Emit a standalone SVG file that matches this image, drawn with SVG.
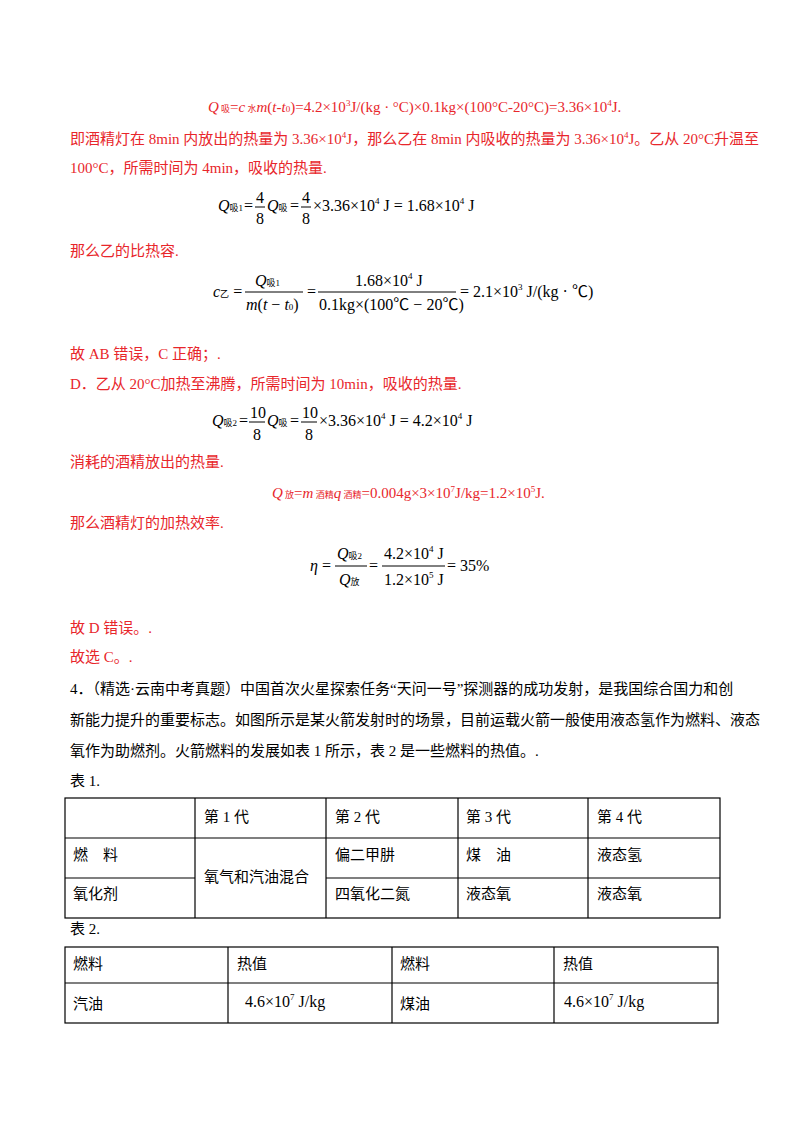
<svg xmlns="http://www.w3.org/2000/svg" width="800" height="1132" viewBox="0 0 800 1132">
<style>
text{font-family:"Liberation Serif","Noto Sans CJK SC",serif;font-size:15px;fill:#000}
.r{fill:#e8262b}
.m{font-size:16px}
.s{font-size:9px}
.i{font-style:italic}
line,.b{stroke:#000;stroke-width:1.2;fill:none}
.f{stroke-width:1}
</style>
<rect width="800" height="1132" fill="#fff"/>
<text class="r" x="208" y="112"><tspan class="i">Q</tspan><tspan class="s"> 吸</tspan>=<tspan class="i">c</tspan><tspan class="s"> 水</tspan><tspan class="i">m</tspan>(<tspan class="i">t</tspan>-<tspan class="i">t</tspan><tspan class="s">0</tspan>)=4.2×10<tspan class="s" dy="-6">3</tspan><tspan dy="6">J/(kg · °C)×0.1kg×(100°C-20°C)=3.36×10</tspan><tspan class="s" dy="-6">4</tspan><tspan dy="6">J.</tspan></text>
<text class="r" x="70" y="144">即酒精灯在 8min 内放出的热量为 3.36×10<tspan class="s" dy="-6">4</tspan><tspan dy="6">J，那么乙在 8min 内吸收的热量为 3.36×10</tspan><tspan class="s" dy="-6">4</tspan><tspan dy="6">J。乙从 20°C升温至</tspan></text>
<text class="r" x="70" y="173">100°C，所需时间为 4min，吸收的热量.</text>
<text x="218" y="211" class="m"><tspan class="i">Q</tspan><tspan class="s">吸1</tspan></text>
<text x="244" y="211" class="m">=</text>
<text x="256" y="203" class="m">4</text><line class="f" x1="255" y1="207" x2="265" y2="207"/><text x="256" y="224" class="m">8</text>
<text x="267" y="211" class="m"><tspan class="i">Q</tspan><tspan class="s">吸</tspan></text>
<text x="290" y="211" class="m">=</text>
<text x="302" y="203" class="m">4</text><line class="f" x1="301" y1="207" x2="311" y2="207"/><text x="302" y="224" class="m">8</text>
<text x="313" y="211" class="m">×3.36×10<tspan class="s" dy="-7">4</tspan><tspan dy="7"> J = 1.68×10</tspan><tspan class="s" dy="-7">4</tspan><tspan dy="7"> J</tspan></text>
<text class="r" x="70" y="256">那么乙的比热容.</text>
<text x="213" y="297" class="m"><tspan class="i">c</tspan><tspan class="s">乙</tspan> =</text>
<text x="255" y="286" class="m"><tspan class="i">Q</tspan><tspan class="s">吸1</tspan></text>
<line class="f" x1="245" y1="292" x2="303" y2="292"/>
<text x="246" y="310" class="m"><tspan class="i">m</tspan>(<tspan class="i">t</tspan> − <tspan class="i">t</tspan><tspan class="s">0</tspan>)</text>
<text x="307" y="297" class="m">=</text>
<text x="355" y="286" class="m">1.68×10<tspan class="s" dy="-7">4</tspan><tspan dy="7"> J</tspan></text>
<line class="f" x1="318" y1="292" x2="456" y2="292"/>
<text x="319" y="310" class="m">0.1kg×(100℃ − 20℃)</text>
<text x="460" y="297" class="m">= 2.1×10<tspan class="s" dy="-7">3</tspan><tspan dy="7"> J/(kg · ℃)</tspan></text>
<text class="r" x="70" y="359">故 AB 错误，C 正确；.</text>
<text class="r" x="70" y="389">D．乙从 20°C加热至沸腾，所需时间为 10min，吸收的热量.</text>
<text x="212" y="426" class="m"><tspan class="i">Q</tspan><tspan class="s">吸2</tspan></text>
<text x="239" y="426" class="m">=</text>
<text x="250" y="418" class="m">10</text><line class="f" x1="249" y1="422" x2="265" y2="422"/><text x="253" y="440" class="m">8</text>
<text x="267" y="426" class="m"><tspan class="i">Q</tspan><tspan class="s">吸</tspan></text>
<text x="290" y="426" class="m">=</text>
<text x="302" y="418" class="m">10</text><line class="f" x1="301" y1="422" x2="317" y2="422"/><text x="305" y="440" class="m">8</text>
<text x="319" y="426" class="m">×3.36×10<tspan class="s" dy="-7">4</tspan><tspan dy="7"> J = 4.2×10</tspan><tspan class="s" dy="-7">4</tspan><tspan dy="7"> J</tspan></text>
<text class="r" x="70" y="467">消耗的酒精放出的热量.</text>
<text class="r" x="272" y="498"><tspan class="i">Q</tspan><tspan class="s"> 放</tspan>=<tspan class="i">m</tspan><tspan class="s"> 酒精</tspan><tspan class="i">q</tspan><tspan class="s"> 酒精</tspan>=0.004g×3×10<tspan class="s" dy="-6">7</tspan><tspan dy="6">J/kg=1.2×10</tspan><tspan class="s" dy="-6">5</tspan><tspan dy="6">J.</tspan></text>
<text class="r" x="70" y="528">那么酒精灯的加热效率.</text>
<text x="310" y="571" class="m"><tspan class="i">η</tspan> =</text>
<text x="337" y="559" class="m"><tspan class="i">Q</tspan><tspan class="s">吸2</tspan></text>
<line class="f" x1="335" y1="566" x2="367" y2="566"/>
<text x="339" y="585" class="m"><tspan class="i">Q</tspan><tspan class="s">放</tspan></text>
<text x="369" y="571" class="m">=</text>
<text x="384" y="559" class="m">4.2×10<tspan class="s" dy="-7">4</tspan><tspan dy="7"> J</tspan></text>
<line class="f" x1="382" y1="566" x2="445" y2="566"/>
<text x="384" y="585" class="m">1.2×10<tspan class="s" dy="-7">5</tspan><tspan dy="7"> J</tspan></text>
<text x="447" y="571" class="m">= 35%</text>
<text class="r" x="70" y="633">故 D 错误。.</text>
<text class="r" x="70" y="662">故选 C。.</text>
<text x="70" y="694">4．（精选·云南中考真题）中国首次火星探索任务“天问一号”探测器的成功发射，是我国综合国力和创</text>
<text x="70" y="725">新能力提升的重要标志。如图所示是某火箭发射时的场景，目前运载火箭一般使用液态氢作为燃料、液态</text>
<text x="70" y="756">氧作为助燃剂。火箭燃料的发展如表 1 所示，表 2 是一些燃料的热值。.</text>
<text x="70" y="786">表 1.</text>
<g id="table1">
<rect class="b" x="65" y="798" width="655" height="120"/>
<line x1="195" y1="798" x2="195" y2="918"/>
<line x1="326" y1="798" x2="326" y2="918"/>
<line x1="458" y1="798" x2="458" y2="918"/>
<line x1="588" y1="798" x2="588" y2="918"/>
<line x1="65" y1="838" x2="720" y2="838"/>
<line x1="65" y1="878" x2="195" y2="878"/>
<line x1="326" y1="878" x2="720" y2="878"/>
<text x="204" y="822">第 1 代</text><text x="335" y="822">第 2 代</text><text x="466" y="822">第 3 代</text><text x="597" y="822">第 4 代</text>
<text x="73" y="860">燃　料</text><text x="335" y="860">偏二甲肼</text><text x="466" y="860">煤　油</text><text x="597" y="860">液态氢</text>
<text x="204" y="882">氧气和汽油混合</text>
<text x="73" y="899">氧化剂</text><text x="335" y="899">四氧化二氮</text><text x="466" y="899">液态氧</text><text x="597" y="899">液态氧</text>
</g>
<text x="70" y="934">表 2.</text>
<g id="table2">
<rect class="b" x="65" y="947" width="653" height="76"/>
<line x1="65" y1="983" x2="718" y2="983"/>
<line x1="228" y1="947" x2="228" y2="1023"/>
<line x1="392" y1="947" x2="392" y2="1023"/>
<line x1="554" y1="947" x2="554" y2="1023"/>
<text x="73" y="969">燃料</text><text x="237" y="969">热值</text><text x="400" y="969">燃料</text><text x="563" y="969">热值</text>
<text x="73" y="1009">汽油</text><text x="400" y="1009">煤油</text>
<text x="245" y="1007" class="m">4.6×10<tspan class="s" dy="-7">7</tspan><tspan dy="7"> J/kg</tspan></text>
<text x="564" y="1007" class="m">4.6×10<tspan class="s" dy="-7">7</tspan><tspan dy="7"> J/kg</tspan></text>
</g>
</svg>
